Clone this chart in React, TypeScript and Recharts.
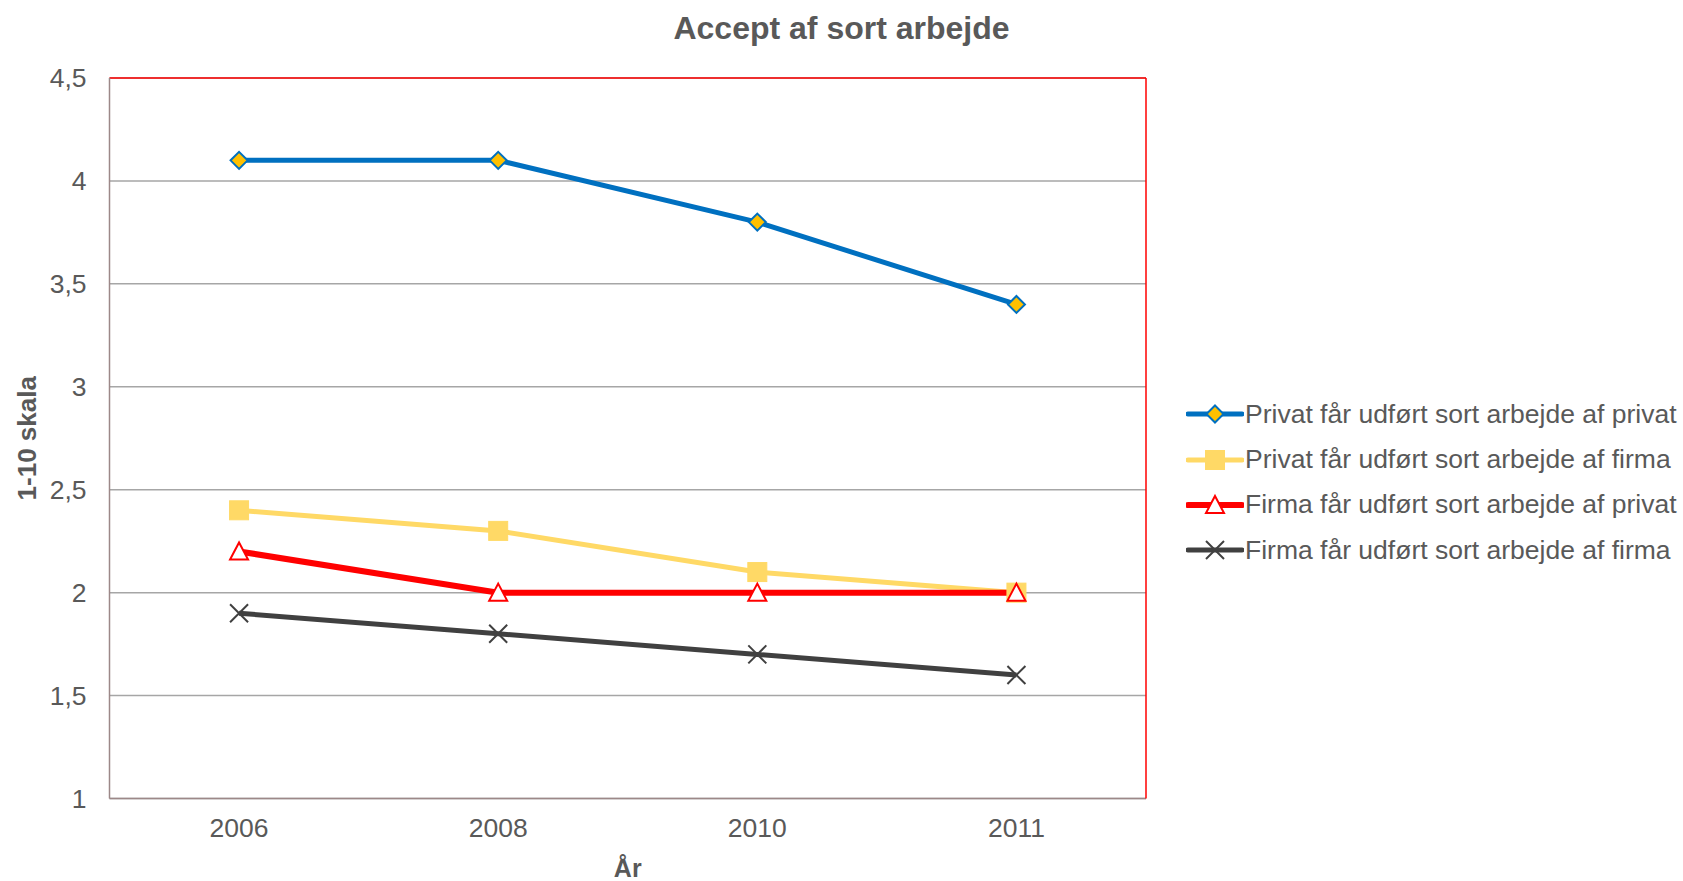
import React from 'react';
import { LineChart, Line, XAxis, YAxis, CartesianGrid } from 'recharts';

const years = ['2006', '2008', '2010', '2011'];
const privatPrivat = [4.1, 4.1, 3.8, 3.4];
const privatFirma = [2.4, 2.3, 2.1, 2.0];
const firmaPrivat = [2.2, 2.0, 2.0, 2.0];
const firmaFirma = [1.9, 1.8, 1.7, 1.6];
const yTicks = [1, 1.5, 2, 2.5, 3, 3.5, 4, 4.5];

const seriesNames = [
  'Privat får udført sort arbejde af privat',
  'Privat får udført sort arbejde af firma',
  'Firma får udført sort arbejde af privat',
  'Firma får udført sort arbejde af firma',
];

const data = years.map((y, i) => ({
  year: y,
  s1: privatPrivat[i],
  s2: privatFirma[i],
  s3: firmaPrivat[i],
  s4: firmaFirma[i],
}));

const FONT = '"Liberation Sans", Arial, sans-serif';
const TXT = '#595959';

type Shape = 'diamond' | 'square' | 'triangle' | 'x';

function marker(shape: Shape, cx: number, cy: number, key?: string) {
  if (shape === 'diamond') {
    const r = 8.5;
    return <path key={key} d={`M${cx},${cy - r}L${cx + r},${cy}L${cx},${cy + r}L${cx - r},${cy}Z`} fill="#FFC000" stroke="#0070C0" strokeWidth={2} />;
  }
  if (shape === 'square') {
    const r = 9.5;
    return <rect key={key} x={cx - r} y={cy - r} width={2 * r} height={2 * r} fill="#FFD966" stroke="#FFD966" strokeWidth={1} />;
  }
  if (shape === 'triangle') {
    const w = 9, h = 16;
    return <path key={key} d={`M${cx},${cy - h / 2 - 1}L${cx + w},${cy + h / 2}L${cx - w},${cy + h / 2}Z`} fill="#FFFFFF" stroke="#FF0000" strokeWidth={2} />;
  }
  const r = 9;
  return (
    <g key={key}>
      <path d={`M${cx - r},${cy - r}L${cx + r},${cy + r}M${cx - r},${cy + r}L${cx + r},${cy - r}`} stroke="#404040" strokeWidth={2} />
    </g>
  );
}

const series: { key: string; name: string; color: string; width: number; shape: Shape }[] = [
  { key: 's1', name: seriesNames[0], color: '#0070C0', width: 5, shape: 'diamond' },
  { key: 's2', name: seriesNames[1], color: '#FFD966', width: 5, shape: 'square' },
  { key: 's3', name: seriesNames[2], color: '#FF0000', width: 6, shape: 'triangle' },
  { key: 's4', name: seriesNames[3], color: '#404040', width: 5, shape: 'x' },
];

const LegendBlock = () => (
  <div style={{ position: 'absolute', left: 1186, top: 391.5, fontFamily: FONT, fontSize: 26.5, color: TXT }}>
    {series.map((s) => (
      <div key={s.key} style={{ display: 'flex', alignItems: 'center', height: 45.4 }}>
        <svg width={58} height={24} style={{ marginRight: 1, flex: 'none' }}>
          <line x1={2} y1={12} x2={56} y2={12} stroke={s.color} strokeWidth={s.width} strokeLinecap="round" />
          {marker(s.shape, 29, 12)}
        </svg>
        <span style={{ whiteSpace: 'nowrap' }}>{s.name}</span>
      </div>
    ))}
  </div>
);

const YLabel = (props: any) => {
  const vb = props.viewBox || {};
  const cx = 27;
  const cy = vb.y + vb.height / 2;
  return (
    <text x={cx} y={cy} transform={`rotate(-90 ${cx} ${cy})`} textAnchor="middle" dominantBaseline="central" fontFamily={FONT} fontSize={26} fontWeight="bold" fill={TXT}>
      1-10 skala
    </text>
  );
};

export default function App() {
  const W = 1683, H = 881;
  const plotLeft = 109.5, plotRight = 1146, plotTop = 78, plotBottom = 798.5;
  const band = (plotRight - plotLeft) / years.length / 2;
  return (
    <div style={{ position: 'absolute', left: 0, top: 0, width: W, height: H, background: '#fff' }}>
      <div style={{ position: 'absolute', left: 0, width: W, top: 11, lineHeight: '34px', textAlign: 'center', fontFamily: FONT, fontWeight: 'bold', fontSize: 32, color: TXT }}>
        Accept af sort arbejde
      </div>
      <LineChart width={W} height={H} data={data} margin={{ top: plotTop - 1, right: W - plotRight - 1, bottom: 0, left: 0 }}>
        <CartesianGrid vertical={false} stroke="#A6A6A6" strokeWidth={1.5} />
        <XAxis dataKey="year" padding={{ left: band, right: band }} tickLine={false} axisLine={{ stroke: '#9C8888', strokeWidth: 1.5 }} tick={{ fontFamily: FONT, fontSize: 26.5, fill: TXT }} tickMargin={14} height={H - plotBottom}
          label={{ value: 'År', position: 'insideBottom', offset: 4, style: { fontFamily: FONT, fontSize: 25, fontWeight: 'bold', fill: TXT } }} />
        <XAxis xAxisId="top" dataKey="year" orientation="top" height={1} tick={false} tickLine={false} axisLine={{ stroke: '#FF0000', strokeWidth: 1.5 }} />
        <YAxis domain={[1, 4.5]} ticks={yTicks} width={plotLeft} tickLine={false} axisLine={{ stroke: '#9C8888', strokeWidth: 1.5 }} tickFormatter={(v: number) => String(v).replace('.', ',')} tick={{ fontFamily: FONT, fontSize: 26.5, fill: TXT }} tickMargin={17} label={<YLabel />} />
        <YAxis yAxisId="right" orientation="right" width={1} domain={[1, 4.5]} tick={false} tickLine={false} axisLine={{ stroke: '#FF0000', strokeWidth: 1.5 }} />
        {series.map((s) => (
          <Line key={s.key} dataKey={s.key} name={s.name} stroke={s.color} strokeWidth={s.width} isAnimationActive={false}
            dot={(p: any) => marker(s.shape, p.cx, p.cy, `${s.key}-${p.index}`)} activeDot={false} />
        ))}
      </LineChart>
      <LegendBlock />
    </div>
  );
}
